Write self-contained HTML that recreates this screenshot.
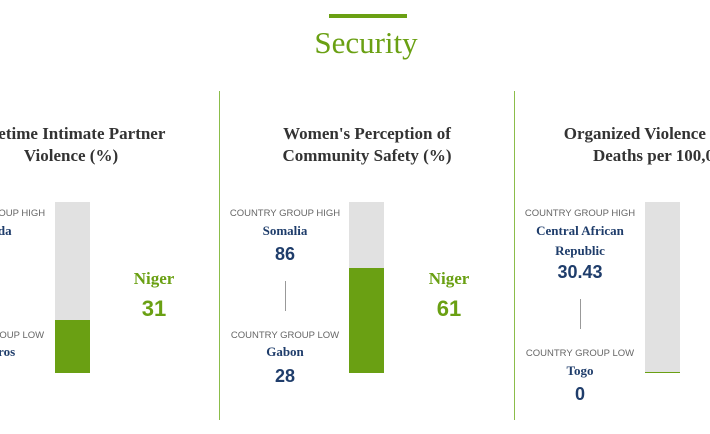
<!DOCTYPE html><html><head><style>
body{margin:0;width:710px;height:434px;background:#fff;overflow:hidden;position:relative;font-family:"Liberation Sans",sans-serif}
#w{position:absolute;left:0;top:0;width:710px;height:434px;overflow:hidden}
.a{position:absolute}
.t{font-family:"Liberation Serif",serif;font-weight:bold;color:#333;font-size:17px;line-height:22px;text-align:center;width:280px;white-space:nowrap}
.cg{font-size:9.5px;color:#666;text-align:center;width:130px}
.nm{font-family:"Liberation Serif",serif;font-weight:bold;color:#1f3d6b;font-size:13px;text-align:center;width:130px;line-height:20px}
.v{font-weight:bold;color:#1f3d6b;font-size:18px;text-align:center;width:130px}
.bar{background:#e1e1e1;width:35px;height:171px;top:202px}
.g{background:#6aa013;position:absolute;left:0;right:0;bottom:0}
.ng{font-family:"Liberation Serif",serif;font-weight:bold;color:#6aa013;font-size:17px;text-align:center;width:100px}
.nv{font-weight:bold;color:#6aa013;font-size:22px;text-align:center;width:100px}
.vl{width:1px;background:#8bbd4a;top:91px;height:329px}
.sep{width:1px;background:#999;height:30px}
</style></head><body><div id="w">
<div class="a" style="left:329px;top:14px;width:78px;height:4px;background:#6aa013"></div>
<div class="a" style="left:266px;top:25px;width:200px;text-align:center;font-family:'Liberation Serif',serif;color:#6aa013;font-size:31px">Security</div>
<div class="a vl" style="left:219px"></div>
<div class="a vl" style="left:514px"></div>

<div class="a t" style="left:-69px;top:123px">Lifetime Intimate Partner<br>Violence (%)</div>
<div class="a cg" style="left:-75px;top:208px">COUNTRY GROUP HIGH</div>
<div class="a nm" style="left:-75px;top:221px">Uganda</div>
<div class="a cg" style="left:-75px;top:330px">COUNTRY GROUP LOW</div>
<div class="a nm" style="left:-75px;top:342px">Comoros</div>
<div class="a bar" style="left:55px"><div class="g" style="height:53px"></div></div>
<div class="a ng" style="left:104px;top:269px">Niger</div>
<div class="a nv" style="left:104px;top:296px">31</div>

<div class="a t" style="left:227px;top:123px">Women's Perception of<br>Community Safety (%)</div>
<div class="a cg" style="left:220px;top:208px">COUNTRY GROUP HIGH</div>
<div class="a nm" style="left:220px;top:221px">Somalia</div>
<div class="a v" style="left:220px;top:244px">86</div>
<div class="a sep" style="left:285px;top:281px"></div>
<div class="a cg" style="left:220px;top:330px">COUNTRY GROUP LOW</div>
<div class="a nm" style="left:220px;top:342px">Gabon</div>
<div class="a v" style="left:220px;top:366px">28</div>
<div class="a bar" style="left:349px"><div class="g" style="height:105px"></div></div>
<div class="a ng" style="left:399px;top:269px">Niger</div>
<div class="a nv" style="left:399px;top:296px">61</div>

<div class="a t" style="left:522px;top:123px">Organized Violence Deaths<br>Deaths per 100,000</div>
<div class="a cg" style="left:515px;top:208px">COUNTRY GROUP HIGH</div>
<div class="a nm" style="left:515px;top:221px">Central African<br>Republic</div>
<div class="a v" style="left:515px;top:262px">30.43</div>
<div class="a sep" style="left:580px;top:299px"></div>
<div class="a cg" style="left:515px;top:348px">COUNTRY GROUP LOW</div>
<div class="a nm" style="left:515px;top:361px">Togo</div>
<div class="a v" style="left:515px;top:384px">0</div>
<div class="a bar" style="left:645px"><div class="g" style="height:1px"></div></div>
</div></body></html>
